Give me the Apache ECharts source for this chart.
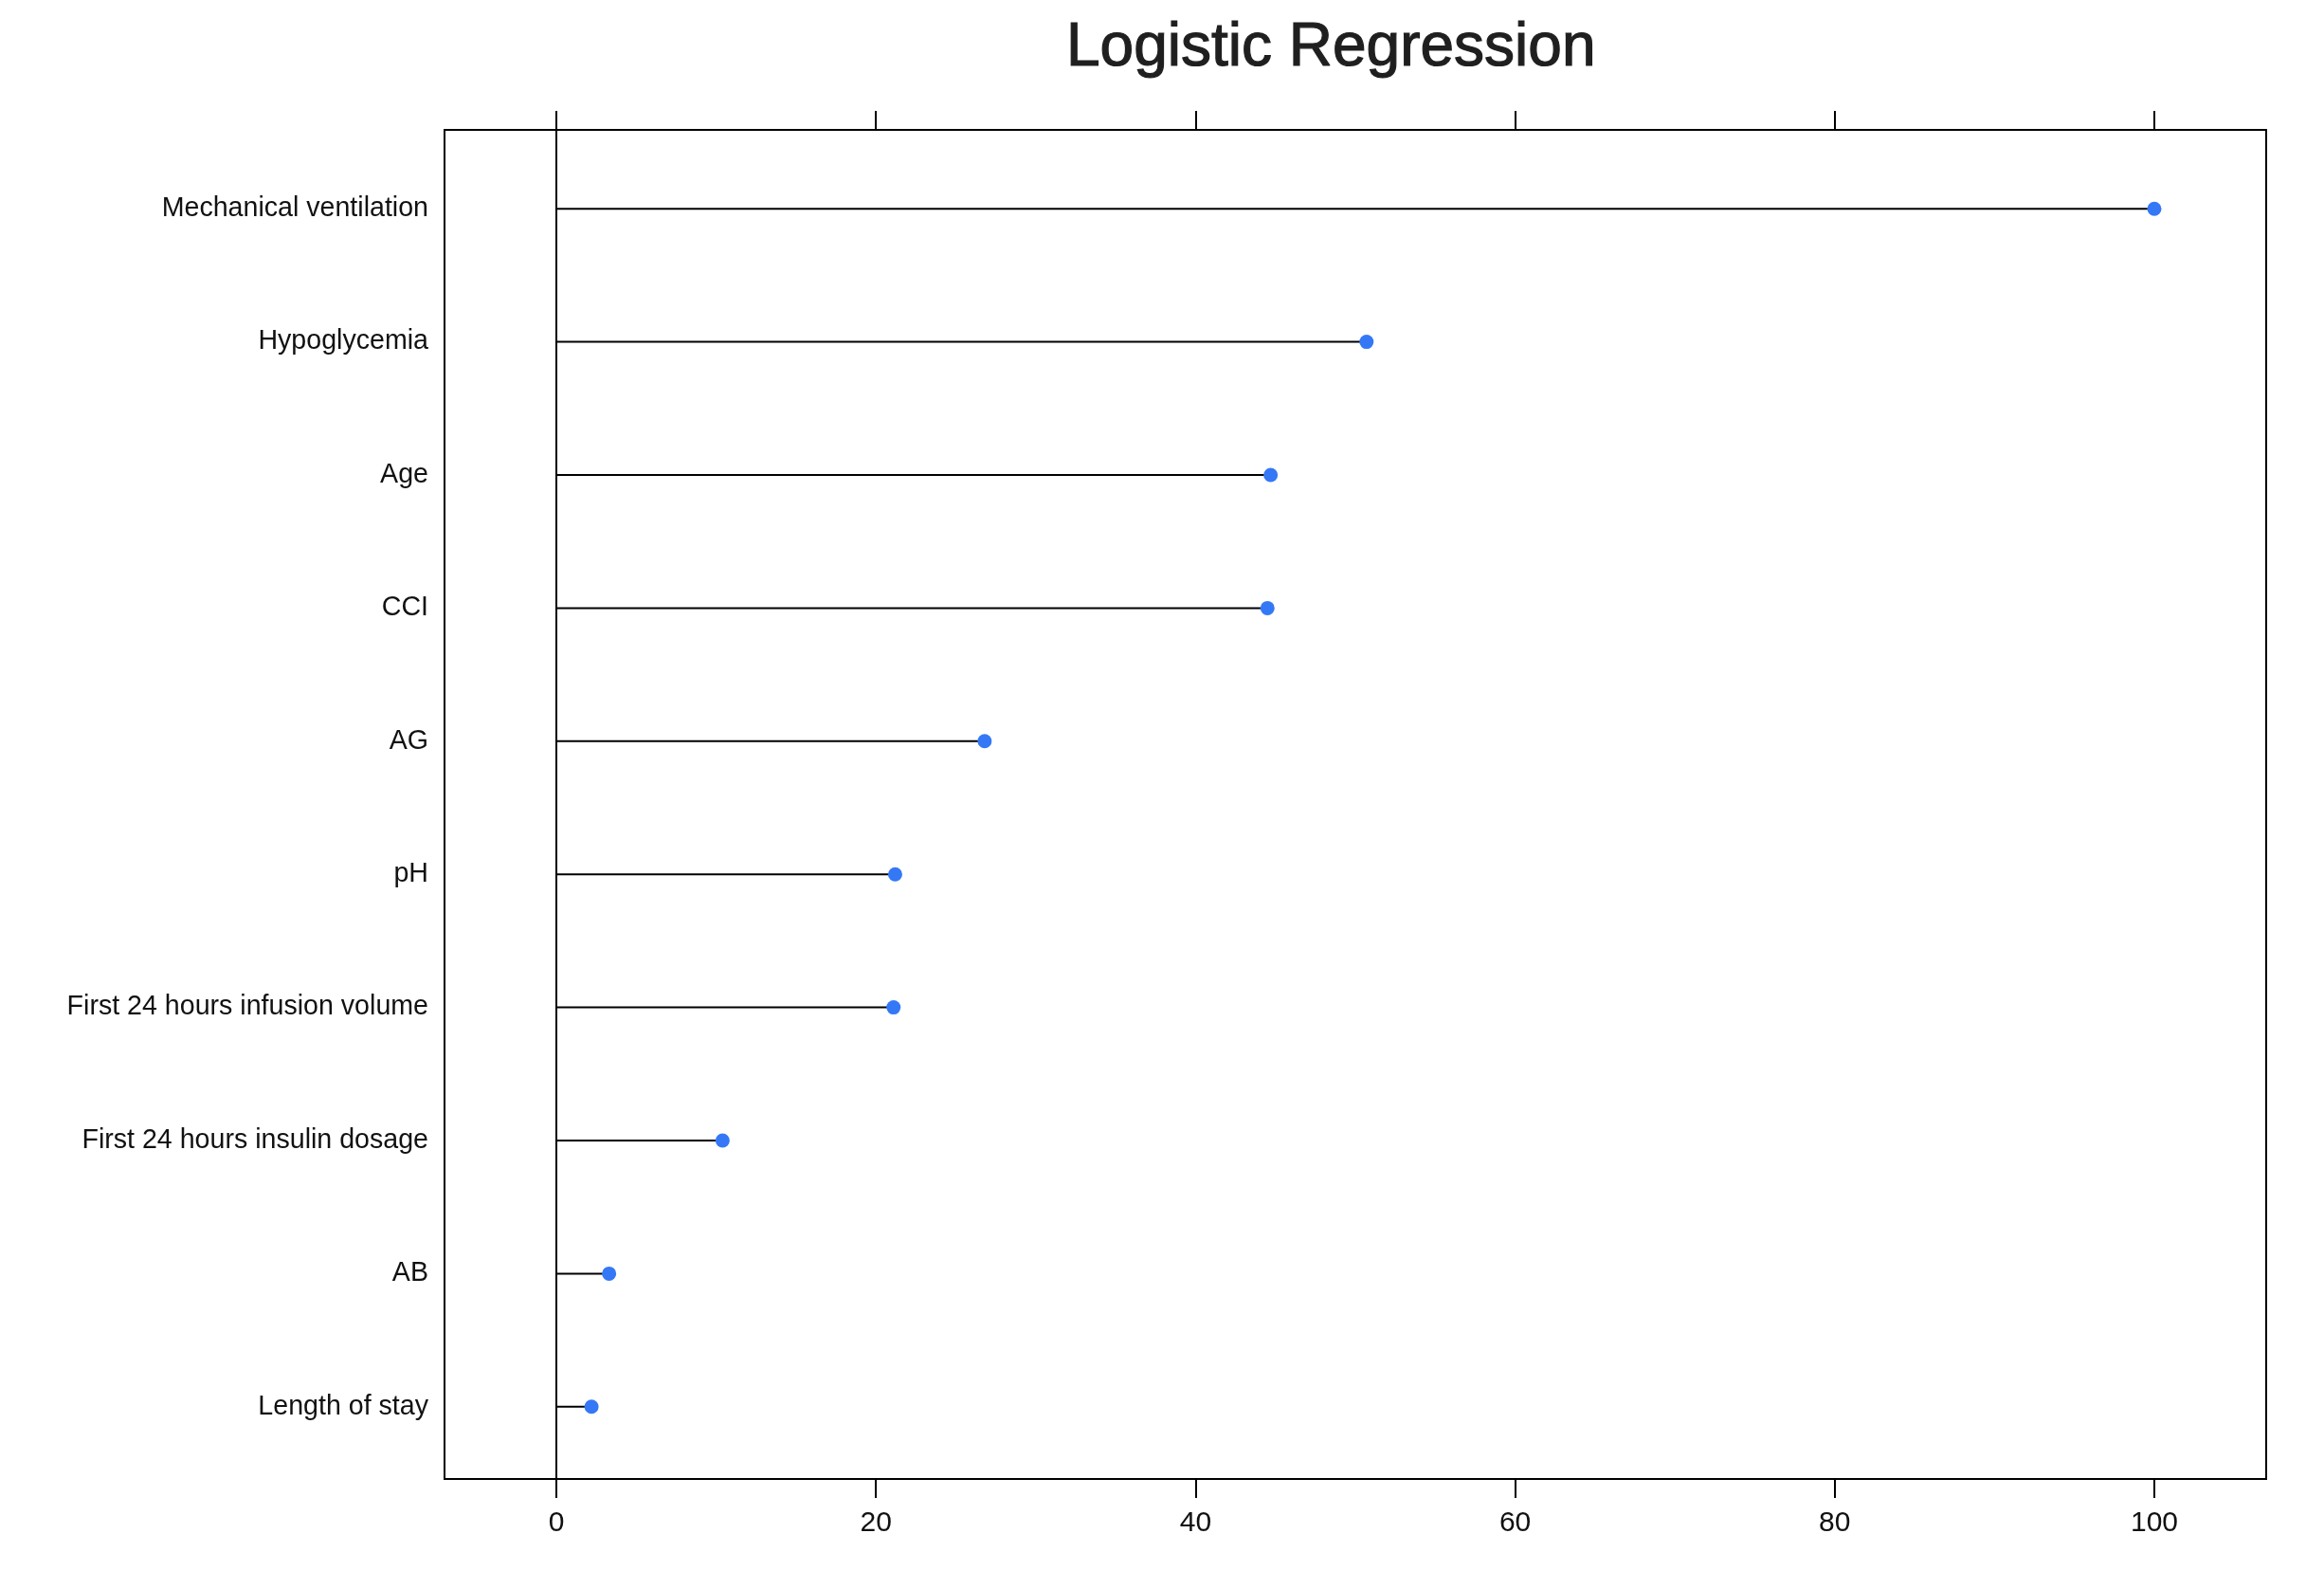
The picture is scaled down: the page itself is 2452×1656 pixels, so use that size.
<!DOCTYPE html>
<html>
<head>
<meta charset="utf-8">
<title>Logistic Regression</title>
<script src="https://cdn.jsdelivr.net/npm/echarts@6/dist/echarts.min.js"></script>
<style>
  html, body { margin: 0; padding: 0; background: #fff; }
  #chart { width: 2452px; height: 1656px; }
</style>
</head>
<body>
<div id="chart"></div>
<script>
const categories = [
  'Mechanical ventilation',
  'Hypoglycemia',
  'Age',
  'CCI',
  'AG',
  'pH',
  'First 24 hours infusion volume',
  'First 24 hours insulin dosage',
  'AB',
  'Length of stay'
];
const importance = [100, 50.7, 44.7, 44.5, 26.8, 21.2, 21.1, 10.4, 3.3, 2.2];
const xTicks = [0, 20, 40, 60, 80, 100];

const chartDom = document.getElementById('chart');
const myChart = echarts.init(chartDom);

const font = 'Liberation Sans, Arial, Helvetica, sans-serif';
const xMin = -7;
const xMax = 107;

const option = {
  animation: false,
  backgroundColor: '#fff',
  title: {
    text: 'Logistic Regression',
    left: 1120,
    top: 14,
    textStyle: {
      fontFamily: font,
      fontSize: 64,
      fontWeight: 'normal',
      color: '#1f1f1f',
      textBorderColor: '#1f1f1f',
      textBorderWidth: 1.2
    }
  },
  grid: [
    // frame with the axes
    { left: 469, right: 61, top: 137, bottom: 96, show: true, borderColor: '#000', borderWidth: 2, containLabel: false },
    // rows of the dot plot
    { left: 469, right: 61, top: 150, bottom: 102, containLabel: false }
  ],
  xAxis: [
    {
      gridIndex: 0, type: 'value', position: 'bottom', min: xMin, max: xMax,
      axisLine: { show: false, onZero: false },
      axisTick: { show: true, inside: false, length: 20, customValues: xTicks, lineStyle: { color: '#000', width: 2 } },
      axisLabel: { show: true, customValues: xTicks, margin: 32, fontFamily: font, fontSize: 30, color: '#111' },
      splitLine: { show: false }
    },
    {
      gridIndex: 0, type: 'value', position: 'top', min: xMin, max: xMax,
      axisLine: { show: false, onZero: false },
      axisTick: { show: true, inside: false, length: 20, customValues: xTicks, lineStyle: { color: '#000', width: 2 } },
      axisLabel: { show: false },
      splitLine: { show: false }
    },
    {
      gridIndex: 1, type: 'value', min: xMin, max: xMax, show: false
    }
  ],
  yAxis: [
    {
      gridIndex: 0, type: 'value', min: 0, max: 1,
      axisLine: { show: true, onZero: true, lineStyle: { color: '#000', width: 2 } },
      axisTick: { show: false },
      axisLabel: { show: false },
      splitLine: { show: false }
    },
    {
      gridIndex: 1, type: 'category', data: categories, inverse: true, boundaryGap: true,
      axisLine: { show: false },
      axisTick: { show: false },
      axisLabel: { margin: 17, fontFamily: font, fontSize: 28.6, color: '#111' },
      splitLine: { show: false }
    }
  ],
  series: [
    {
      name: 'stem',
      type: 'bar',
      xAxisIndex: 2,
      yAxisIndex: 1,
      data: importance,
      barWidth: 2,
      itemStyle: { color: '#000' },
      silent: true
    },
    {
      name: 'Importance',
      type: 'scatter',
      xAxisIndex: 2,
      yAxisIndex: 1,
      data: categories.map((c, i) => [importance[i], c]),
      symbol: 'circle',
      symbolSize: 15,
      itemStyle: { color: '#3478F6', opacity: 1 },
      z: 5
    }
  ]
};

myChart.setOption(option);
window.addEventListener('resize', () => myChart.resize());
</script>
</body>
</html>
